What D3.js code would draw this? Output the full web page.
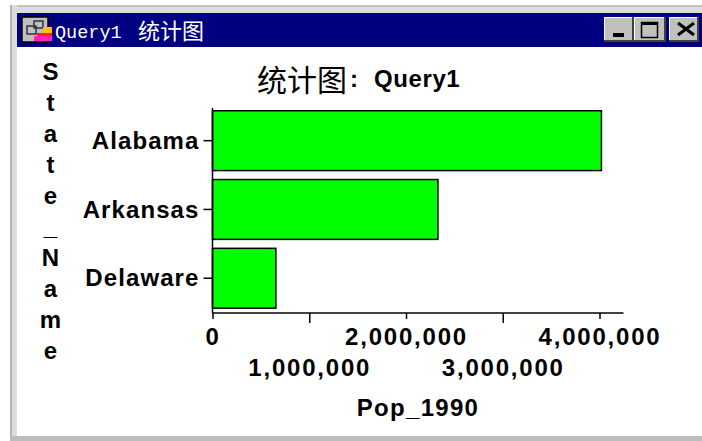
<!DOCTYPE html>
<html>
<head>
<meta charset="utf-8">
<script src="https://cdn.jsdelivr.net/npm/d3@7"></script>
<style>
  html, body { margin: 0; padding: 0; background: #fff; overflow: hidden; }
  svg { display: block; }
  text { fill: #000; font-family: "Liberation Sans", Arial, sans-serif; font-weight: bold; }
  .label { font-size: 24px; letter-spacing: 1.1px; }
</style>
</head>
<body>
<div id="chart"></div>
<script>
const states = ["Alabama", "Arkansas", "Delaware"];
const pop1990 = [4020000, 2330000, 655000];
const popTicks = [0, 1000000, 2000000, 3000000, 4000000];
const yTitle = ["S", "t", "a", "t", "e", "_", "N", "a", "m", "e"];

const width = 702, height = 441;
const svg = d3.select("#chart").append("svg").attr("width", width).attr("height", height);

// window chrome
svg.append("rect").attr("width", width).attr("height", height).attr("fill", "#fff");
svg.append("rect").attr("x", 10).attr("y", 5).attr("width", 692).attr("height", 8).attr("fill", "#dcdcdc");
svg.append("rect").attr("x", 10).attr("y", 5).attr("width", 692).attr("height", 2).attr("fill", "#c4c4c4");
svg.append("rect").attr("x", 10).attr("y", 5).attr("width", 7).attr("height", 436).attr("fill", "#dcdcdc");
svg.append("rect").attr("x", 10).attr("y", 5).attr("width", 2).attr("height", 436).attr("fill", "#b4b4b4");
svg.append("rect").attr("x", 10).attr("y", 436).attr("width", 692).attr("height", 5).attr("fill", "#bcbcbc");
svg.append("rect").attr("x", 17).attr("y", 13).attr("width", 685).attr("height", 34).attr("fill", "#000080");

// title bar icon
const icon = svg.append("g");
icon.append("rect").attr("x", 22).attr("y", 17).attr("width", 26).attr("height", 25).attr("fill", "#c0c0c0").attr("stroke", "#000").attr("stroke-width", 1.5);
icon.append("rect").attr("x", 27).attr("y", 26).attr("width", 9).attr("height", 8).attr("fill", "none").attr("stroke", "#333").attr("stroke-width", 1.5);
icon.append("rect").attr("x", 34).attr("y", 21).attr("width", 9).attr("height", 7).attr("fill", "none").attr("stroke", "#333").attr("stroke-width", 1.5);
icon.append("rect").attr("x", 43).attr("y", 27).attr("width", 9).attr("height", 6).attr("fill", "#ffc000");
icon.append("rect").attr("x", 37).attr("y", 33).attr("width", 15).attr("height", 3).attr("fill", "#ff2020");
icon.append("rect").attr("x", 34).attr("y", 36).attr("width", 18).attr("height", 5).attr("fill", "#ff20c0");

svg.append("text").attr("x", 55).attr("y", 38)
  .style("fill", "#fff").style("font-family", '"Liberation Mono", monospace').style("font-weight", "normal")
  .style("font-size", "18.5px").text("Query1");
svg.append("text").attr("x", 138).attr("y", 39)
  .style("fill", "#fff").style("font-family", '"Noto Sans CJK SC"').style("font-weight", "normal")
  .style("font-size", "22px").text("统计图");

// window buttons with raised edges
const buttons = [{ x: 604, w: 30 }, { x: 634, w: 32 }, { x: 669, w: 30 }];
svg.selectAll(".btn").data(buttons).enter().append("rect").attr("class", "btn")
  .attr("x", d => d.x).attr("y", 17).attr("width", d => d.w).attr("height", 25).attr("fill", "#c0c0c0");
svg.selectAll(".btn-hi").data(buttons).enter().append("path").attr("class", "btn-hi")
  .attr("d", d => `M${d.x + 0.5},41V17.5H${d.x + d.w - 1}`).attr("fill", "none").attr("stroke", "#fff");
svg.selectAll(".btn-lo").data(buttons).enter().append("path").attr("class", "btn-lo")
  .attr("d", d => `M${d.x},41H${d.x + d.w - 1}V17`).attr("fill", "none").attr("stroke", "#404040").attr("stroke-width", 2);
svg.append("rect").attr("x", 613).attr("y", 33).attr("width", 11).attr("height", 4).attr("fill", "#000");
svg.append("rect").attr("x", 641.5).attr("y", 22.5).attr("width", 16).attr("height", 15).attr("fill", "none").attr("stroke", "#000").attr("stroke-width", 1.5);
svg.append("rect").attr("x", 641).attr("y", 22).attr("width", 17).attr("height", 3).attr("fill", "#000");
svg.append("path").attr("d", "M678,23L694,35M694,23L678,35").attr("stroke", "#000").attr("stroke-width", 3);

// chart title
svg.append("text").attr("x", 257).attr("y", 91)
  .style("font-family", '"Noto Sans CJK SC"').style("font-weight", "normal").style("font-size", "30px").text("统计图");
svg.append("text").attr("x", 350).attr("y", 87).style("font-size", "24px").text(":");
svg.append("text").attr("x", 374).attr("y", 87).style("font-size", "24px").style("letter-spacing", "0.6px").text("Query1");

// scales
const x = d3.scaleLinear().domain([0, 4000000]).range([212.5, 599.5]);
const y = d3.scaleBand().domain(states).range([107.3, 311.6]).paddingInner(0.13).paddingOuter(0.05);

// bars
svg.selectAll(".bar").data(states).enter().append("rect").attr("class", "bar")
  .attr("x", x(0))
  .attr("y", d => y(d))
  .attr("width", (d, i) => x(pop1990[i]) - x(0))
  .attr("height", y.bandwidth())
  .attr("fill", "#00ff00").attr("stroke", "#000").attr("stroke-width", 1.5);

// y axis
const yAxis = svg.append("g").attr("transform", `translate(${x(0)},0)`)
  .call(d3.axisLeft(y).tickSize(9).tickPadding(4));
yAxis.select(".domain").attr("stroke-width", 1.5).attr("d", "M0,108V313");
yAxis.selectAll("text").attr("class", "label").style("font-size", "24px").attr("dy", "0.34em");
yAxis.selectAll("line").attr("stroke-width", 1.5);

// x axis, labels stagger over two rows
const xAxis = svg.append("g").attr("transform", "translate(0,313)")
  .call(d3.axisBottom(x).tickValues(popTicks).tickFormat(d3.format(",")).tickSize(6));
xAxis.select(".domain").attr("stroke-width", 1.5).attr("d", `M${x(0)},0H623.5`);
xAxis.selectAll("line").attr("stroke-width", 1.5).attr("y2", (d, i) => i % 2 ? 10 : 6);
xAxis.selectAll("text").style("font-size", "24px").style("letter-spacing", "1.8px")
  .attr("dy", null).attr("y", (d, i) => i % 2 ? 63 : 32);

svg.append("text").attr("x", 418).attr("y", 416).attr("text-anchor", "middle")
  .style("font-size", "24px").style("letter-spacing", "1.3px").text("Pop_1990");

// vertical axis title, one letter per line
svg.selectAll(".ytitle").data(yTitle).enter().append("text").attr("class", "ytitle label")
  .attr("x", 51).attr("y", (d, i) => 80 + i * 31)
  .attr("text-anchor", "middle").text(d => d);
</script>
</body>
</html>
